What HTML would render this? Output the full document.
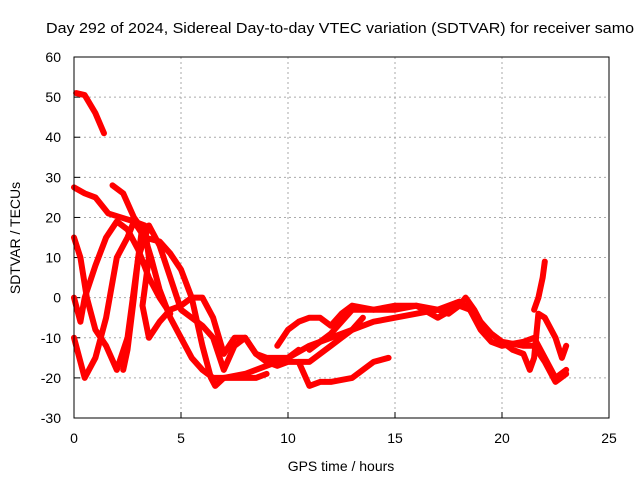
<!DOCTYPE html>
<html><head><meta charset="utf-8"><style>
body{margin:0;background:#fff}
svg{display:block;font-family:"Liberation Sans",sans-serif}
</style></head><body>
<svg id="chart" width="640" height="480">
<text x="46" y="33" font-size="15" textLength="588" lengthAdjust="spacingAndGlyphs">Day 292 of 2024, Sidereal Day-to-day VTEC variation (SDTVAR) for receiver samo</text>
<g id="grid"></g><g id="series"></g>
<rect x="74" y="57" width="535" height="361" fill="none" stroke="#000"/>
<text x="341" y="471" font-size="14" text-anchor="middle">GPS time / hours</text>
<text transform="translate(20,238) rotate(-90)" font-size="14" text-anchor="middle">SDTVAR / TECUs</text>
</svg>
<script>
const xTicks=[0,5,10,15,20,25];
const yTicks=[-30,-20,-10,0,10,20,30,40,50,60];
const seriesA=[[0.1,51],[0.5,50.5],[1,46],[1.4,41]];
const seriesB=[[0,27.5],[0.5,26],[1,25],[1.3,23],[1.6,21],[2.2,20],[2.8,19],[3.3,15],[4,14],[4.5,11],[5,7],[5.5,0],[6,-12],[6.4,-20],[6.6,-22],[7,-20],[8,-20],[8.5,-20],[9,-19]];
const seriesC=[[1.8,28],[2.3,26],[2.8,20],[3.2,17],[3.6,10],[4,2],[4.5,-5],[5,-10],[5.5,-15],[6,-18],[6.5,-20],[7,-20],[8,-19],[9,-17],[10,-15],[10.5,-13]];
const seriesD=[[0,15],[0.3,10],[0.6,0],[1,-8],[1.5,-12],[2,-18],[2.5,-10],[3,10],[3.5,18],[4,13],[4.5,5],[5,-3],[5.5,-5],[6,-7],[6.5,-10],[7,-18],[7.5,-12],[8,-10],[8.5,-14],[9,-15],[10,-15],[11,-12],[12,-10],[13,-8],[13.5,-5]];
const seriesE=[[0,-10],[0.5,-20],[1,-15],[1.5,-5],[2,10],[2.5,15],[2.8,19],[3.3,18],[3.5,10],[3.2,-2],[3.5,-10],[4,-6],[4.5,-3],[5,-2],[5.5,0],[6,0],[6.5,-5],[7,-14],[7.5,-10],[8,-10],[8.5,-14],[9,-16],[9.5,-17],[10,-16],[11,-16],[12,-12],[12.5,-10],[13,-8],[14,-6],[15,-5],[16,-4],[17,-3],[18,-1],[18.5,-3],[19,-8],[19.5,-11],[20,-12],[21,-11],[21.5,-10],[22,-15],[22.5,-20],[23,-18]];
const seriesF=[[0,0],[0.3,-6],[0.5,0],[1,8],[1.5,15],[2,19],[2.5,17],[3,12],[3.5,5],[4,0],[4.5,-4]];
const seriesG=[[2.3,-18],[2.5,-13],[2.8,0],[3,10],[3.2,18]];
const seriesH=[[9.5,-12],[10,-8],[10.5,-6],[11,-5],[11.5,-5],[12,-7],[12.5,-4],[13,-2],[14,-3],[15,-3],[16,-2],[17,-3],[17.5,-4],[18,-2],[18.3,0],[18.7,-3],[19,-6],[19.5,-9],[20,-11],[20.5,-13],[21,-14],[21.3,-18],[21.5,-15],[21.7,-4],[22,-5],[22.5,-10],[22.8,-15],[23,-12]];
const seriesI=[[10.5,-16],[11,-22],[11.5,-21],[12,-21],[13,-20],[13.5,-18],[14,-16],[14.7,-15]];
const seriesJ=[[21.5,-3],[21.7,0],[21.9,5],[22,9]];
const seriesK=[[11,-13],[12,-9],[13,-3],[14,-3],[15,-2],[16,-2],[17,-5],[18,-2],[18.5,-3],[19,-7],[20,-11],[21,-12],[21.5,-12],[22,-16],[22.5,-21],[23,-19]];
const allSeries=[seriesA,seriesB,seriesC,seriesD,seriesE,seriesF,seriesG,seriesH,seriesI,seriesJ,seriesK];
const X=v=>74+v*535/25, Y=v=>418-(v+30)*361/90;
const NS="http://www.w3.org/2000/svg";
const grid=document.getElementById('grid'), ser=document.getElementById('series');
function mk(tag,attrs,parent){const e=document.createElementNS(NS,tag);for(const k in attrs)e.setAttribute(k,attrs[k]);parent.appendChild(e);return e;}
xTicks.forEach(t=>{
  if(t>0&&t<25){const l=mk('line',{x1:X(t),x2:X(t),y1:57,y2:418,stroke:'#aaa','stroke-dasharray':'2,3'},grid);
  
  }
  const tx=mk('text',{x:X(t),y:443,'font-size':14,'text-anchor':'middle'},grid);tx.textContent=t;
  
  
  mk('line',{x1:X(t),x2:X(t),y1:418,y2:412,stroke:'#000'},grid);
});
yTicks.forEach(t=>{
  if(t>-30&&t<60){const l=mk('line',{x1:74,x2:609,y1:Y(t),y2:Y(t),stroke:'#aaa','stroke-dasharray':'2,3'},grid);
  
  }
  const tx=mk('text',{x:61,y:Y(t)+5,'font-size':14,'text-anchor':'end'},grid);tx.textContent=t;
  
  
  mk('line',{x1:74,x2:80,y1:Y(t),y2:Y(t),stroke:'#000'},grid);
});
allSeries.forEach(s=>{
  const p=mk('polyline',{points:s.map(d=>X(d[0])+','+Y(d[1])).join(' '),fill:'none',stroke:'#f00','stroke-width':6,'stroke-linejoin':'round','stroke-linecap':'round'},ser);
  
  
});
</script>
</body></html>
